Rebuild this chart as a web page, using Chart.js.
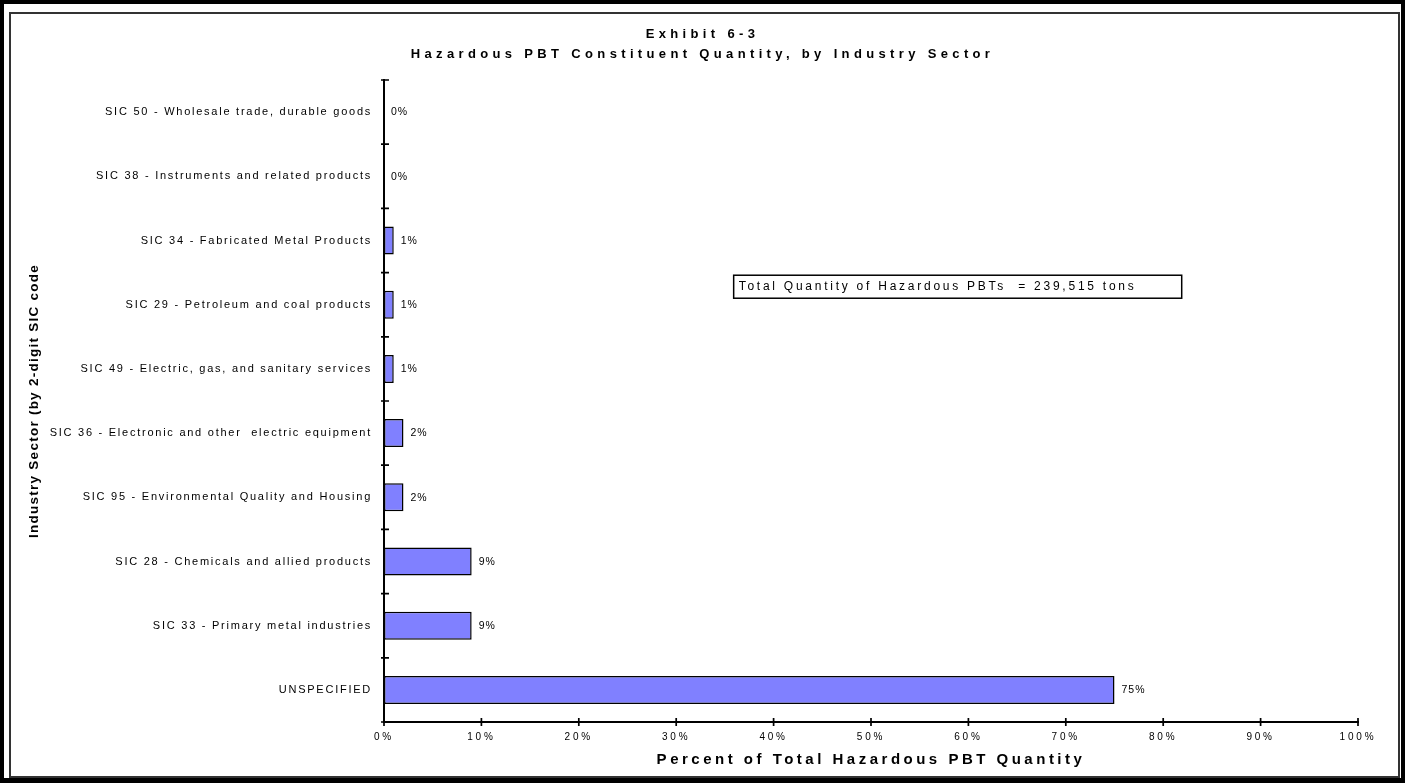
<!DOCTYPE html>
<html>
<head>
<meta charset="utf-8">
<script src="https://cdn.jsdelivr.net/npm/chart.js@4/dist/chart.umd.min.js"></script>
<style>
  html, body { margin: 0; padding: 0; background: #fff; }
  canvas { display: block; }
</style>
</head>
<body>
<canvas id="c" width="1405" height="783"></canvas>
<script>
// ---- data ----
const sectors = [
  'SIC 50 - Wholesale trade, durable goods',
  'SIC 38 - Instruments and related products',
  'SIC 34 - Fabricated Metal Products',
  'SIC 29 - Petroleum and coal products',
  'SIC 49 - Electric, gas, and sanitary services',
  'SIC 36 - Electronic and other  electric equipment',
  'SIC 95 - Environmental Quality and Housing',
  'SIC 28 - Chemicals and allied products',
  'SIC 33 - Primary metal industries',
  'UNSPECIFIED'
];
const sharePct = [0, 0, 1, 1, 1, 2, 2, 9, 9, 75];
const percentTicks = [0, 10, 20, 30, 40, 50, 60, 70, 80, 90, 100];

const chartTitle = ['Exhibit 6-3', 'Hazardous PBT Constituent Quantity, by Industry Sector'];
const xAxisTitle = 'Percent of Total Hazardous PBT Quantity';
const yAxisTitle = 'Industry Sector (by 2-digit SIC code';
const totalNote = 'Total Quantity of Hazardous PBTs  = 239,515 tons';
// note box placement in axis units (percent, category index)
const noteFrom = 35.9, noteTo = 81.9, noteRow = 2.72;

const FAMILY = "'Liberation Sans', Arial, Helvetica, sans-serif";

// letter spacing used for each text style
const tracking = [
  { bold: true,  size: 13,   px: 4.35 }, // chart title
  { bold: true,  size: 15,   px: 3.5 },  // x axis title
  { bold: true,  size: 13.5, px: 1.25 }, // y axis title
  { bold: false, size: 11,   px: 1.75 }, // sector labels
  { bold: false, size: 10,   px: 2.8 },  // percent ticks
  { bold: false, size: 10.5, px: 1.0 },  // bar value labels
  { bold: false, size: 12,   px: 2.75 }  // total note
];

const canvas = document.getElementById('c');
const ctx = canvas.getContext('2d');

function trackingFor(font) {
  const m = /([\d.]+)px/.exec(font);
  const size = m ? parseFloat(m[1]) : 0;
  const bold = /bold|[6-9]00/.test(font);
  const t = tracking.find(t => t.bold === bold && Math.abs(t.size - size) < 0.01);
  return t ? t.px + 'px' : '0px';
}
const nativeFill = ctx.fillText;
ctx.fillText = function (text, x, y, maxWidth) {
  this.letterSpacing = trackingFor(this.font);
  if (maxWidth === undefined) return nativeFill.call(this, text, x, y);
  return nativeFill.call(this, text, x, y, maxWidth);
};
const nativeMeasure = ctx.measureText;
ctx.measureText = function (text) {
  this.letterSpacing = trackingFor(this.font);
  return nativeMeasure.call(this, text);
};

// white page with the double frame
const framePlugin = {
  id: 'frame',
  beforeDraw(chart) {
    const c = chart.ctx, W = chart.width, H = chart.height;
    c.save();
    c.fillStyle = '#fff';
    c.fillRect(0, 0, W, H);
    c.fillStyle = '#000';
    c.fillRect(0, 0, W, 4);
    c.fillRect(0, 0, 4, H);
    c.fillRect(W - 4, 0, 4, H);
    c.fillRect(0, H - 5, W, 5);
    c.fillStyle = '#333';
    c.fillRect(9, 12, W - 14, 2);
    c.fillRect(9, 12, 2, H - 17);
    c.fillRect(W - 7, 12, 2, H - 17);
    c.fillRect(9, H - 7, W - 14, 2);
    c.restore();
  }
};

// tick marks that cross the axis lines
const crossTicksPlugin = {
  id: 'crossTicks',
  afterDraw(chart) {
    const c = chart.ctx, xs = chart.scales.x, ys = chart.scales.y;
    const ax = xs.getPixelForValue(0), ay = ys.bottom;
    c.save();
    c.strokeStyle = '#000';
    c.lineWidth = 1.7;
    c.beginPath();
    for (let i = 0; i <= sectors.length; i++) {
      const y = ys.getPixelForValue(i - 0.5);
      c.moveTo(ax - 3, y);
      c.lineTo(ax + 5, y);
    }
    xs.ticks.forEach(t => {
      const x = xs.getPixelForValue(t.value);
      c.moveTo(x, ay - 4);
      c.lineTo(x, ay + 4);
    });
    c.stroke();
    c.restore();
  }
};

// value labels at the end of each bar
const valueLabelPlugin = {
  id: 'valueLabels',
  afterDatasetsDraw(chart) {
    const c = chart.ctx;
    const meta = chart.getDatasetMeta(0);
    c.save();
    c.font = '10.5px ' + FAMILY;
    c.fillStyle = '#000';
    c.textAlign = 'left';
    c.textBaseline = 'middle';
    meta.data.forEach((bar, i) => {
      c.fillText(sharePct[i] + '%', bar.x + 7, bar.y + 0.5);
    });
    c.restore();
  }
};

// boxed note with the total quantity
const notePlugin = {
  id: 'totalNote',
  afterDraw(chart) {
    const c = chart.ctx, xs = chart.scales.x, ys = chart.scales.y;
    const x0 = xs.getPixelForValue(noteFrom), x1 = xs.getPixelForValue(noteTo);
    const yc = ys.getPixelForValue(noteRow);
    const h = 23;
    c.save();
    c.fillStyle = '#fff';
    c.fillRect(x0, yc - h / 2, x1 - x0, h);
    c.strokeStyle = '#000';
    c.lineWidth = 1.5;
    c.strokeRect(x0, yc - h / 2, x1 - x0, h);
    c.font = '12px ' + FAMILY;
    c.fillStyle = '#000';
    c.textAlign = 'left';
    c.textBaseline = 'middle';
    c.fillText(totalNote, x0 + 5, yc);
    c.restore();
  }
};

new Chart(ctx, {
  type: 'bar',
  data: {
    labels: sectors,
    datasets: [{
      data: sharePct,
      backgroundColor: '#8080FF',
      borderColor: '#000',
      borderWidth: 1.5,
      borderSkipped: false,
      barPercentage: 0.436,
      categoryPercentage: 1
    }]
  },
  options: {
    indexAxis: 'y',
    responsive: false,
    devicePixelRatio: 1,
    animation: false,
    layout: { padding: 0 },
    plugins: {
      legend: { display: false },
      tooltip: { enabled: false },
      title: {
        display: true,
        text: chartTitle,
        color: '#000',
        font: { family: FAMILY, size: 13, weight: 'bold', lineHeight: 20 / 13 },
        padding: { top: 24.2, bottom: 15.8 }
      }
    },
    scales: {
      x: {
        type: 'linear',
        position: 'bottom',
        min: 0,
        max: 100,
        afterBuildTicks: s => { s.ticks = percentTicks.map(v => ({ value: v })); },
        ticks: {
          callback: v => v + '%',
          color: '#000',
          font: { family: FAMILY, size: 10 },
          padding: 1,
          maxRotation: 0,
          autoSkip: false
        },
        grid: { display: false },
        border: { display: true, color: '#000', width: 2 },
        title: {
          display: true,
          text: xAxisTitle,
          color: '#000',
          font: { family: FAMILY, size: 15, weight: 'bold', lineHeight: 1.2 },
          padding: { top: 0, bottom: 14.3 }
        },
        afterFit: s => { s.height = 61; s.paddingRight = 47; }
      },
      y: {
        type: 'category',
        offset: true,
        ticks: {
          color: '#000',
          font: { family: FAMILY, size: 11 },
          padding: 4,
          autoSkip: false
        },
        grid: { display: false },
        border: { display: true, color: '#000', width: 2 },
        title: {
          display: true,
          text: yAxisTitle,
          color: '#000',
          font: { family: FAMILY, size: 13.5, weight: 'bold', lineHeight: 1.2 },
          padding: { top: 25.9, bottom: 0 }
        },
        afterFit: s => { s.width = 384; }
      }
    }
  },
  plugins: [framePlugin, crossTicksPlugin, valueLabelPlugin, notePlugin]
});
</script>
</body>
</html>
